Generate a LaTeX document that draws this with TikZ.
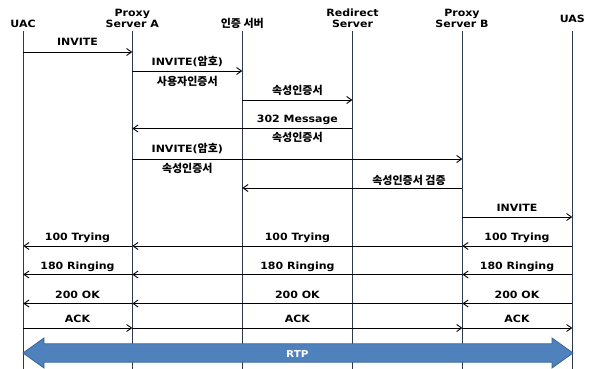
\documentclass[tikz,border=0pt]{standalone}
\usepackage{fontspec}
\setmainfont{DejaVu Sans}[FakeStretch=1.1]
\newfontfamily\korfont{Noto Sans CJK KR Bold}
\usetikzlibrary{arrows.meta}
\definecolor{life}{HTML}{2E3B4E}
\definecolor{rtpfill}{HTML}{4F81BD}
\definecolor{rtpdraw}{HTML}{3A6494}
\newcommand{\K}[1]{{\korfont\fontsize{11}{13}\selectfont #1}}
\begin{document}
\begin{tikzpicture}[x=1pt,y=-1pt,
  lbl/.style={font=\fontsize{10}{12}\selectfont\bfseries, anchor=base, inner sep=0pt},
  head/.style={font=\fontsize{10}{11}\selectfont\bfseries, anchor=base, inner sep=0pt, align=center},
  lifeline/.style={draw=life, line width=1.2pt},
  msg/.style={draw=black, line width=0.8pt, -{Straight Barb[length=5pt,width=7pt,line width=0.9pt]}},
  seg/.style={draw=black, line width=0.8pt}]
\useasboundingbox (0,0) rectangle (592,369);
\fill[white] (0,0) rectangle (592,369);
% lifeline tops and bottoms
\coordinate (uac) at (23.3,31);   \coordinate (uacB) at (23.3,369);
\coordinate (pa)  at (132.3,31);\coordinate (paB)  at (132.3,369);
\coordinate (au)  at (242.3,31);\coordinate (auB)  at (242.3,369);
\coordinate (rd)  at (352.4,31);\coordinate (rdB)  at (352.4,369);
\coordinate (pb)  at (462.4,31);  \coordinate (pbB)  at (462.4,369);
\coordinate (uas) at (572.3,31);\coordinate (uasB) at (572.3,369);
% headers
\node[head] (hUAC) at (23,27.3) {UAC};
\node[head] (hPA1) at (132.3,16.5) {Proxy};
\node[head] (hPA2) at (132.3,27.5) {Server A};
\node[head] (hAU) at (242.3,27.8) {\K{인증 서버}};
\node[head] (hRD1) at (352.5,16.8) {Redirect};
\node[head] (hRD2) at (352.5,27.5) {Server};
\node[head] (hPB1) at (462,16.5) {Proxy};
\node[head] (hPB2) at (462,27.5) {Server B};
\node[head] (hUAS) at (572.3,22.7) {UAS};
% lifelines
\foreach \n in {uac,pa,au,rd,pb,uas} \draw[lifeline] (\n) -- (\n B);
% 1 INVITE
\draw[msg] (uac |- 0,52) -- (pa |- 0,52);
\node[lbl] (l1) at (77.5,46) {INVITE};
% 2 INVITE(암호)
\draw[msg] (pa |- 0,71) -- (au |- 0,71);
\node[lbl] (l2) at (187.3,65.5) {INVITE(\K{암호})};
\node[lbl] (l2b) at (187.3,85.5) {\K{사용자인증서}};
% 3 속성인증서
\draw[msg] (au |- 0,100) -- (rd |- 0,100);
\node[lbl] (l3) at (297.4,95) {\K{속성인증서}};
% 4 302 Message
\draw[msg] (rd |- 0,128.5) -- (pa |- 0,128.5);
\node[lbl] (l4) at (297.4,122.5) {302 Message};
\node[lbl] (l4b) at (297.4,141.5) {\K{속성인증서}};
% 5 INVITE(암호) to Proxy B
\draw[msg] (pa |- 0,159) -- (pb |- 0,159);
\node[lbl] (l5) at (187.3,152.5) {INVITE(\K{암호})};
\node[lbl] (l5b) at (187.3,172.5) {\K{속성인증서}};
% 6 속성인증서 검증
\draw[msg] (pb |- 0,188) -- (au |- 0,188);
\node[lbl] (l6) at (409,184) {\K{속성인증서 검증}};
% 7 INVITE
\draw[msg] (pb |- 0,217) -- (uas |- 0,217);
\node[lbl] (l7) at (517,211.5) {INVITE};
% 8 100 Trying
\foreach \a/\b in {uas/pb,pb/pa,pa/uac} \draw[msg] (\a |- 0,246) -- (\b |- 0,246);
\node[lbl] (t1) at (77.5,240) {100 Trying};
\node[lbl] (t2) at (297.4,240) {100 Trying};
\node[lbl] (t3) at (517,240) {100 Trying};
% 9 180 Ringing
\foreach \a/\b in {uas/pb,pb/pa,pa/uac} \draw[msg] (\a |- 0,274.5) -- (\b |- 0,274.5);
\node[lbl] (r1) at (77.5,269) {180 Ringing};
\node[lbl] (r2) at (297.4,269) {180 Ringing};
\node[lbl] (r3) at (517,269) {180 Ringing};
% 10 200 OK
\foreach \a/\b in {uas/pb,pb/pa,pa/uac} \draw[msg] (\a |- 0,303.5) -- (\b |- 0,303.5);
\node[lbl] (o1) at (77.5,298) {200 OK};
\node[lbl] (o2) at (297.4,298) {200 OK};
\node[lbl] (o3) at (517,298) {200 OK};
% 11 ACK
\foreach \a/\b in {uac/pa,pa/pb,pb/uas} \draw[msg] (\a |- 0,328) -- (\b |- 0,328);
\node[lbl] (k1) at (77.5,322) {ACK};
\node[lbl] (k2) at (297.4,322) {ACK};
\node[lbl] (k3) at (517,322) {ACK};
% RTP
\draw[fill=rtpfill, draw=rtpdraw, line width=0.8pt, line join=miter]
  (23,353) -- (44,338) -- (44,343.8) -- (552,343.8) -- (552,338) -- (573,353)
  -- (552,368) -- (552,362.2) -- (44,362.2) -- (44,368) -- cycle;
\node[font=\fontsize{9.5}{10}\selectfont\bfseries, text=white, anchor=base, inner sep=0pt] (rtp) at (297.4,357) {RTP};
\end{tikzpicture}
\end{document}
